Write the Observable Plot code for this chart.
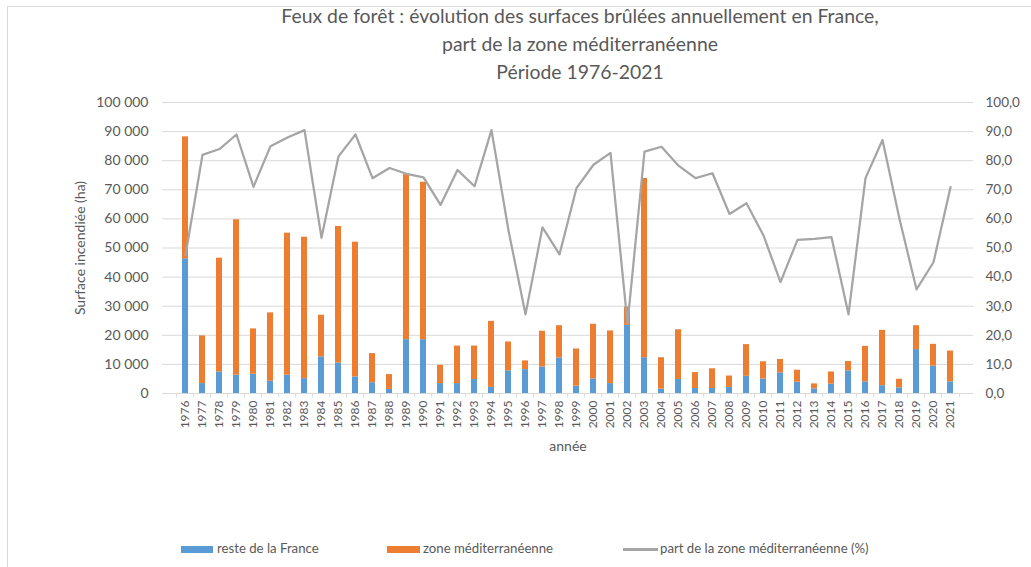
<!DOCTYPE html>
<html>
<head>
<meta charset="utf-8">
<script src="https://cdn.jsdelivr.net/npm/d3@7"></script>
<script src="https://cdn.jsdelivr.net/npm/@observablehq/plot@0.6"></script>
<style>
  body { margin: 0; width: 1031px; height: 567px; position: relative; overflow: hidden; background: #fff; font-family: Lato, "Noto Sans", sans-serif; color: #595959; }
  #frame { position: absolute; left: 7px; top: 6px; width: 1040px; height: 580px; border: 1px solid #d9d9d9; box-sizing: border-box; }
  #title { position: absolute; left: 0; top: 2px; width: 1160px; text-align: center; font-size: 19.4px; line-height: 28px; color: #595959; }
  #chart { position: absolute; left: 0; top: 88px; }
  .lg { position: absolute; top: 540px; font-size: 13.2px; line-height: 17px; color: #595959; white-space: nowrap; }
  .sw { position: absolute; }
</style>
</head>
<body>
<div id="frame"></div>
<div id="title">Feux de forêt : évolution des surfaces brûlées annuellement en France,<br>part de la zone méditerranéenne<br>Période 1976-2021</div>
<div id="chart"></div>
<div class="sw" style="left:181px;top:546px;width:32px;height:7px;background:#5b9bd5"></div>
<div class="lg" style="left:217px">reste de la France</div>
<div class="sw" style="left:387px;top:546px;width:33px;height:7px;background:#ed7d31"></div>
<div class="lg" style="left:423px">zone méditerranéenne</div>
<div class="sw" style="left:623px;top:548px;width:35px;height:3px;background:#a5a5a5"></div>
<div class="lg" style="left:660px">part de la zone méditerranéenne (%)</div>
<script>
const years = d3.range(1976, 2022);
// surfaces (ha) hors zone méditerranéenne
const resteFrance = [46300,3400,7400,6300,6600,4200,6300,5100,12600,10500,5700,3700,1400,18500,18500,3400,3400,4800,2100,7800,8200,9100,12200,2500,5000,3400,23400,12300,1500,4800,1700,1700,2100,5900,5000,7100,3900,1600,3200,7800,4000,2700,1900,15100,9400,4000];
// surfaces (ha) zone méditerranéenne
const zoneMed = [41900,16400,39100,53400,15600,23500,48800,48600,14300,46900,46300,10000,5100,56700,54100,6300,12900,11500,22700,9900,3000,12300,11100,12800,18800,18100,6300,61600,10800,17100,5500,6800,3900,10900,5900,4600,4100,1700,4200,3200,12200,19000,3000,8200,7500,10600];
// part de la zone méditerranéenne (%)
const partMed = [47.5,82,84,89,71,85,88,90.5,53.5,81.5,89,74,77.5,75.5,74.3,64.8,76.8,71.2,90.5,56,27.2,57.1,47.8,70.6,78.6,82.7,24,83.1,84.8,78.3,74,75.7,61.7,65.4,54.3,38.3,52.8,53.1,53.7,27.2,74,87.1,60,35.8,45.1,70.9];
const leftTicks = d3.range(0, 100001, 10000);
const seriesNames = ["reste de la France", "zone méditerranéenne"];
const seriesColors = ["#5b9bd5", "#ed7d31"];

const long = [];
years.forEach((y, i) => {
  long.push({year: String(y), serie: seriesNames[0], value: resteFrance[i]});
  long.push({year: String(y), serie: seriesNames[1], value: zoneMed[i]});
});
const lineData = years.map((y, i) => ({year: String(y), v: partMed[i] * 1000}));

const loc = d3.formatLocale({decimal: ",", thousands: "\u00a0", grouping: [3], currency: ["", ""]});
const fmtLeft = loc.format(",.0f");
const fmtRight = d => (d / 1000).toFixed(1).replace(".", ",");
const step = (973 - 162) / years.length;

const chart = Plot.plot({
  width: 1031,
  height: 380,
  marginLeft: 162,
  marginRight: 58,
  marginTop: 14,
  marginBottom: 75,
  style: {fontFamily: "Lato, 'Noto Sans', sans-serif", fontSize: "14px", color: "#595959", background: "transparent", overflow: "visible"},
  x: {type: "band", domain: years.map(String), paddingInner: 0.62, paddingOuter: 0.31, axis: null},
  y: {type: "linear", domain: [0, 100000], axis: null},
  color: {domain: seriesNames, range: seriesColors},
  marks: [
    Plot.gridY(leftTicks, {stroke: "#d9d9d9", strokeOpacity: 1, strokeWidth: 1}),
    Plot.barY(long, {x: "year", y: "value", fill: "serie"}),
    Plot.ruleY([0], {stroke: "#d9d9d9", strokeWidth: 1}),
    Plot.ruleX(years.map(String), {x: d => d, dx: -step / 2, y1: 0, y2: -1500, stroke: "#d9d9d9"}),
    Plot.ruleX(["2021"], {x: d => d, dx: step / 2, y1: 0, y2: -1500, stroke: "#d9d9d9"}),
    Plot.lineY(lineData, {x: "year", y: "v", stroke: "#a5a5a5", strokeWidth: 2.25}),
    Plot.axisY(leftTicks, {anchor: "left", tickSize: 0, tickPadding: 14, tickFormat: fmtLeft, label: null, fill: "#595959", fontSize: 14}),
    Plot.axisY(leftTicks, {anchor: "right", tickSize: 0, tickPadding: 12, tickFormat: fmtRight, label: null, fill: "#595959", fontSize: 13.5}),
    Plot.axisX({tickRotate: -90, tickSize: 0, tickPadding: 7, label: null, fill: "#595959", fontSize: 12}),
    Plot.text(["Surface incendiée (ha)"], {frameAnchor: "left", textAnchor: "middle", rotate: -90, dx: -82, fill: "#595959", fontSize: 14}),
    Plot.text(["année"], {frameAnchor: "bottom", dy: 57, fill: "#595959", fontSize: 14})
  ]
});
document.getElementById("chart").appendChild(chart);
</script>
</body>
</html>
